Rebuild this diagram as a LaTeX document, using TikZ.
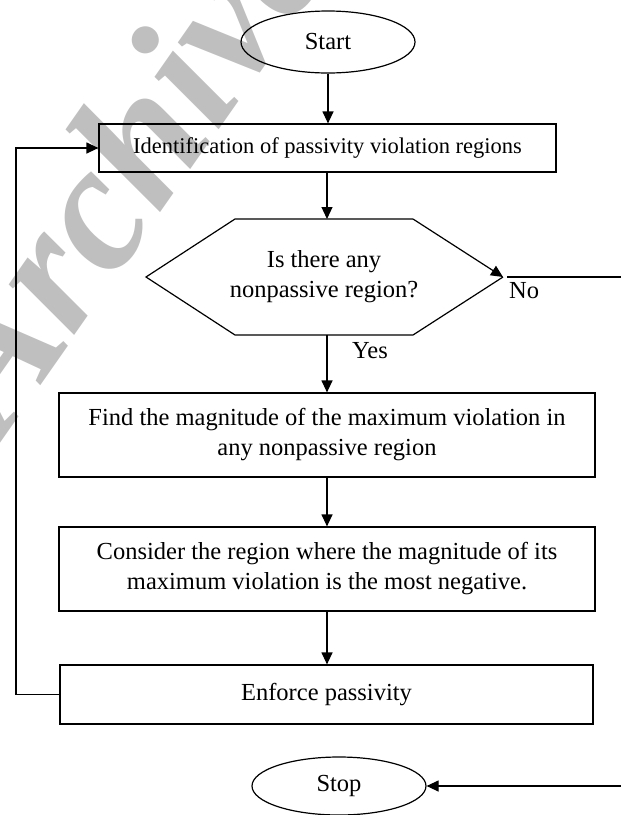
\documentclass[tikz,border=0pt]{standalone}
\usepackage{fontspec}
\setmainfont{Liberation Serif}
\usetikzlibrary{arrows.meta,shapes.geometric}
\tikzset{
  box/.style={draw, line width=1.2pt, rectangle, inner sep=0pt, align=center},
  term/.style={draw, line width=1.2pt, ellipse, inner sep=0pt},
  conn/.style={line width=1.2pt, -{Triangle[length=12pt,width=11pt]}},
  plain/.style={line width=1.2pt},
  txt/.style={font=\fontsize{24.5}{30}\selectfont},
  wm/.style={text=black!25, font=\fontsize{180}{180}\selectfont\bfseries\itshape}
}
\begin{document}
\begin{tikzpicture}[x=1pt,y=-1pt]
\useasboundingbox (0,0) rectangle (621,815);
% watermark
\node[wm, rotate=55, anchor=base west] (wmark) at (2,440) {Archive};
% terminals
\node[term, txt, minimum width=174pt, minimum height=62pt] (start) at (328,42) {Start};
\node[term, txt, minimum width=174pt, minimum height=58pt] (stop) at (339,786) {Stop};
% boxes
\node[box, minimum width=457pt, minimum height=48pt, font=\fontsize{22.5}{27}\selectfont] (b1) at (327.5,148) {Identification of passivity violation regions};
\node[box, txt, minimum width=536pt, minimum height=84pt] (b2) at (327,435) {Find the magnitude of the maximum violation in\\any nonpassive region};
\node[box, txt, minimum width=536pt, minimum height=84pt] (b3) at (327,569) {Consider the region where the magnitude of its\\maximum violation is the most negative.};
\node[box, txt, minimum width=533pt, minimum height=59pt] (b4) at (326.5,694.5) {Enforce passivity};
% hexagon decision
\coordinate (hT) at (327,219);
\coordinate (hB) at (327,335);
\coordinate (hTL) at (235,219);
\coordinate (hTR) at (413,219);
\coordinate (hL) at (146,277);
\coordinate (hR) at (503,277);
\coordinate (hBL) at (235,335);
\coordinate (hBR) at (413,335);
\draw[plain, line join=miter] (hTR) -- (hTL) -- (hL) -- (hBL) -- (hBR) -- (hR);
\draw[conn] (hTR) -- (hR);
\node[txt, align=center] (q) at (324,277) {Is there any\\nonpassive region?};
\node[txt, anchor=north west, inner sep=0pt] (no) at (509,282) {No};
\node[txt, anchor=west, inner sep=0pt] (yes) at (352,351) {Yes};
% free ends
\coordinate (noEnd) at (621,277);
\coordinate (noStart) at (507,277);
\coordinate (stopIn) at (621,786);
\coordinate (loopBL) at (16,694.5);
\coordinate (loopTL) at (16,148);
% connectors
\draw[conn] (start) -- (b1.north -| start);
\draw[conn] (b1.south -| hT) -- (hT);
\draw[conn] (hB) -- (b2.north -| hB);
\draw[conn] (b2.south -| hB) -- (b3.north -| hB);
\draw[conn] (b3.south -| hB) -- (b4.north -| hB);
\draw[plain] (noStart) -- (noEnd);
\draw[conn] (stopIn) -- (stop.east);
\draw[conn] (b4.west) -- (loopBL) -- (loopTL) -- (b1.west);
\end{tikzpicture}
\end{document}
